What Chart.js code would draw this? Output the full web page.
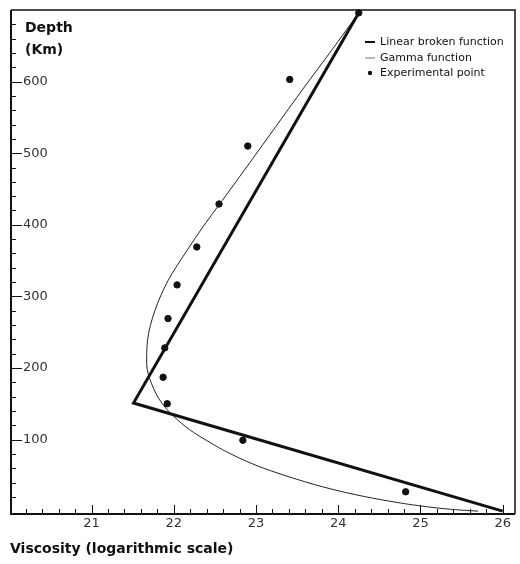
<!DOCTYPE html>
<html>
<head>
<meta charset="utf-8">
<script src="https://cdn.jsdelivr.net/npm/chart.js@4/dist/chart.umd.min.js"></script>
<style>
  body { margin: 0; background: #fff; }
  #wrap { width: 520px; height: 564px; }
</style>
</head>
<body>
<div id="wrap"><canvas id="viscosity" width="520" height="564"></canvas></div>
<script>
// linear broken function (viscosity, depth)
var linearX = [24.25, 21.51, 26.0];
var linearDepth = [696, 151, 0];

// gamma function
var gammaX = [24.25, 23.89, 23.56, 23.24, 22.92, 22.59, 22.36, 22.16, 21.93, 21.77, 21.68, 21.67, 21.73, 21.86, 22.05, 22.24, 22.41, 22.59, 23.0, 23.40, 23.81, 24.21, 24.62, 25.02, 25.43, 25.7];
var gammaDepth = [696, 639, 588, 537, 486, 434, 398, 364, 322, 280, 238, 206, 178, 150, 127, 110, 98, 86, 64, 48, 34, 23, 14, 7, 2, 0];

// experimental points
var pointX = [24.25, 23.41, 22.90, 22.55, 22.28, 22.04, 21.93, 21.89, 21.87, 21.92, 22.84, 24.82];
var pointDepth = [696, 603, 510, 429, 369, 316, 269, 228, 187, 150, 99, 27];

var xTicks = [21, 22, 23, 24, 25, 26];
var yTicks = [100, 200, 300, 400, 500, 600];

var legendLabels = ["Linear broken function", "Gamma function", "Experimental point"];

function pairs(xs, ys) {
  return xs.map(function (x, i) { return { x: x, y: ys[i] }; });
}

// axes, ticks, labels and legend drawn with the chart's own scales
var framePlugin = {
  id: "frame",
  afterDraw: function (chart) {
    var ctx = chart.ctx;
    var a = chart.chartArea;
    var xs = chart.scales.x, ys = chart.scales.y;
    ctx.save();
    ctx.strokeStyle = "#111";
    // box
    ctx.lineWidth = 1.5;
    ctx.beginPath();
    ctx.moveTo(a.left, a.top); ctx.lineTo(a.right, a.top); ctx.lineTo(a.right, a.bottom);
    ctx.stroke();
    ctx.lineWidth = 2;
    ctx.beginPath();
    ctx.moveTo(a.left, a.top); ctx.lineTo(a.left, a.bottom); ctx.lineTo(a.right, a.bottom);
    ctx.stroke();

    // x ticks every 0.2, major on integers
    ctx.lineWidth = 1;
    for (var v = 20.2; v <= 26.05; v += 0.2) {
      var px = Math.round(xs.getPixelForValue(v)) + 0.5;
      var major = Math.abs(v - Math.round(v)) < 0.01;
      ctx.beginPath();
      ctx.moveTo(px, a.bottom);
      ctx.lineTo(px, a.bottom - (major ? 9 : 5));
      ctx.stroke();
    }
    // y ticks every 20, major every 100
    for (var d = 20; d <= 680; d += 20) {
      var py = Math.round(ys.getPixelForValue(d)) + 0.5;
      var maj = d % 100 === 0;
      ctx.beginPath();
      ctx.moveTo(a.left, py);
      ctx.lineTo(a.left + (maj ? 11 : 5), py);
      ctx.stroke();
    }

    ctx.fillStyle = "#333";
    ctx.font = "13px 'DejaVu Sans'";
    ctx.textBaseline = "middle";
    ctx.textAlign = "left";
    yTicks.forEach(function (t) {
      ctx.fillText(String(t), a.left + 12, ys.getPixelForValue(t));
    });
    ctx.textAlign = "center";
    xTicks.forEach(function (t) {
      ctx.fillText(String(t), xs.getPixelForValue(t), a.bottom + 10);
    });

    // titles
    ctx.fillStyle = "#111";
    ctx.font = "bold 14px 'DejaVu Sans'";
    ctx.textAlign = "left";
    ctx.textBaseline = "alphabetic";
    ctx.fillText("Depth", 25, 32);
    ctx.fillText("(Km)", 25, 54);
    ctx.fillText("Viscosity (logarithmic scale)", 10, 553);

    // legend
    ctx.font = "11px 'DejaVu Sans'";
    ctx.textBaseline = "middle";
    var rows = [42, 58, 73];
    ctx.lineWidth = 2;
    ctx.strokeStyle = "#111";
    ctx.beginPath(); ctx.moveTo(365, rows[0]); ctx.lineTo(375, rows[0]); ctx.stroke();
    ctx.lineWidth = 1;
    ctx.strokeStyle = "#777";
    ctx.beginPath(); ctx.moveTo(365, rows[1]); ctx.lineTo(375, rows[1]); ctx.stroke();
    ctx.beginPath(); ctx.arc(370, rows[2], 2.2, 0, Math.PI * 2); ctx.fill();
    legendLabels.forEach(function (t, i) {
      ctx.fillText(t, 380, rows[i]);
    });
    ctx.restore();
  }
};

new Chart("viscosity", {
  type: "scatter",
  data: {
    datasets: [{
      label: legendLabels[0],
      data: pairs(linearX, linearDepth),
      showLine: true,
      borderColor: "#111",
      borderWidth: 3,
      pointRadius: 0,
      tension: 0
    }, {
      // depth is monotonic along the curve, so interpolate along y
      type: "line",
      indexAxis: "y",
      label: legendLabels[1],
      data: pairs(gammaX, gammaDepth),
      borderColor: "#222",
      borderWidth: 1,
      pointRadius: 0,
      fill: false,
      cubicInterpolationMode: "monotone"
    }, {
      label: legendLabels[2],
      data: pairs(pointX, pointDepth),
      showLine: false,
      backgroundColor: "#111",
      borderColor: "#111",
      pointRadius: 3.2
    }]
  },
  options: {
    responsive: false,
    animation: false,
    events: [],
    clip: false,
    layout: { padding: { left: 11, top: 10, right: 3, bottom: 50 } },
    plugins: { legend: { display: false }, tooltip: { enabled: false } },
    scales: {
      x: { type: "linear", min: 20.02, max: 26.15, display: false },
      y: { type: "linear", min: -4, max: 700, display: false }
    }
  },
  plugins: [framePlugin]
});
</script>
</body>
</html>
